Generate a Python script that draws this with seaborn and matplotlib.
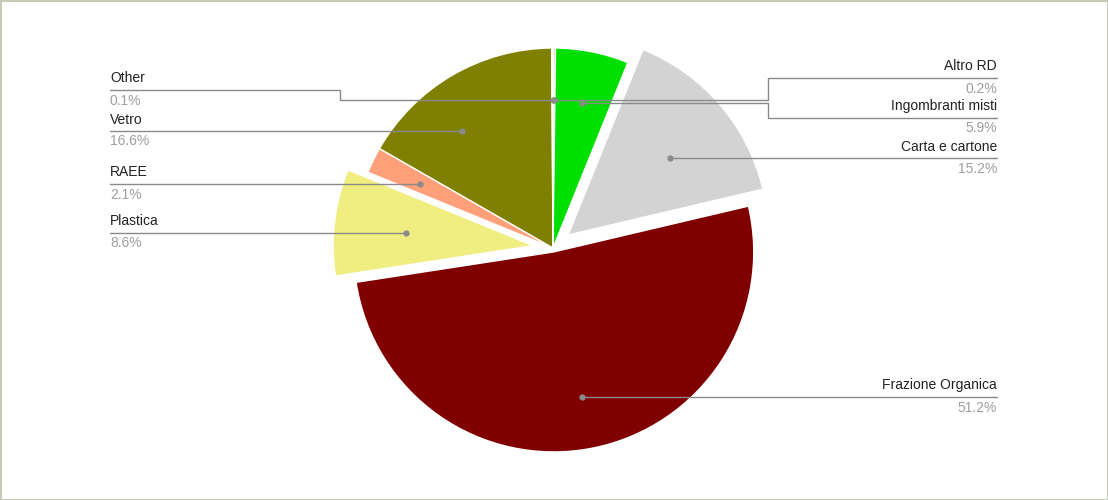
import numpy as np
import seaborn as sns
import matplotlib.pyplot as plt

sns.set_theme(style="white")
plt.rcParams['font.family'] = ['Liberation Sans', 'DejaVu Sans']

labels = ['Altro RD', 'Ingombranti misti', 'Carta e cartone', 'Frazione Organica',
          'Plastica', 'RAEE', 'Vetro', 'Other']
values = [0.2, 5.9, 15.2, 51.2, 8.6, 2.1, 16.6, 0.1]
pct_labels = ['0.2%', '5.9%', '15.2%', '51.2%', '8.6%', '2.1%', '16.6%', '0.1%']
colors = ['#c9bf9b', '#00e000', '#d3d3d3', '#800000', '#f0ee80', '#ffa07a', '#808000', '#9a9a40']

# pie geometry in pixels (axes data = pixels, y up)
R = 200
CX, CY = 553, 500 - 248
explode = [0, 0, 20, 4, 20, 0, 0, 0]

fig = plt.figure(figsize=(11.08, 5), dpi=100)
fig.patch.set_edgecolor('#c5cbb5')
fig.patch.set_linewidth(2)
ax = fig.add_axes([0, 0, 1, 1])

wedges, _ = ax.pie(values, colors=colors, explode=explode, startangle=90,
                   counterclock=False, center=(CX, CY), radius=R,
                   wedgeprops=dict(edgecolor='white', linewidth=1))
ax.set_xlim(0, 1108)
ax.set_ylim(0, 500)
ax.set_aspect('equal')
ax.axis('off')

# label layout (pixel y from top): name, line, percent, side, elbow x, dot mode
layout = {
    'Altro RD':          (66, 78, 89, 'r', 768, 'mid'),
    'Ingombranti misti': (106, 118, 128, 'r', 768, 'mid'),
    'Carta e cartone':   (147, 158, 169, 'r', None, 'arc'),
    'Frazione Organica': (385, 397, 408, 'r', None, 'mid'),
    'Plastica':          (221, 233, 243, 'l', None, 'arc'),
    'RAEE':              (172, 184, 195, 'l', None, 'arc'),
    'Vetro':             (120, 131, 141, 'l', None, 'arc'),
    'Other':             (78, 90, 101, 'l', 340, 'mid'),
}

line_col = '#8a8a8a'
rd = 0.74 * R
for w, lab, pct, ex in zip(wedges, labels, pct_labels, explode):
    ty, ly, py, side, elbow, mode = layout[lab]
    ly = 500 - ly
    if mode == 'mid':
        mid = np.deg2rad((w.theta1 + w.theta2) / 2)
        dx = CX + (rd + ex) * np.cos(mid)
        dy = CY + (rd + ex) * np.sin(mid)
    else:
        dy = ly
        off = np.sqrt(rd ** 2 - (ly - CY) ** 2)
        dx = CX + off if side == 'r' else CX - off
    xend = 997 if side == 'r' else 110
    if elbow is None:
        ax.plot([dx, xend], [dy, dy], color=line_col, lw=1, zorder=5)
    else:
        ax.plot([dx, elbow, elbow, xend], [dy, dy, ly, ly], color=line_col, lw=1, zorder=5)
    ax.plot(dx, dy, 'o', color=line_col, ms=3.5, zorder=6)
    ha = 'right' if side == 'r' else 'left'
    ax.text(xend, 500 - ty, lab, ha=ha, va='center', fontsize=10, color='#222222')
    ax.text(xend, 500 - py, pct, ha=ha, va='center', fontsize=10, color='#9e9e9e')

fig.savefig('out.png', dpi=100, edgecolor=fig.get_edgecolor())
